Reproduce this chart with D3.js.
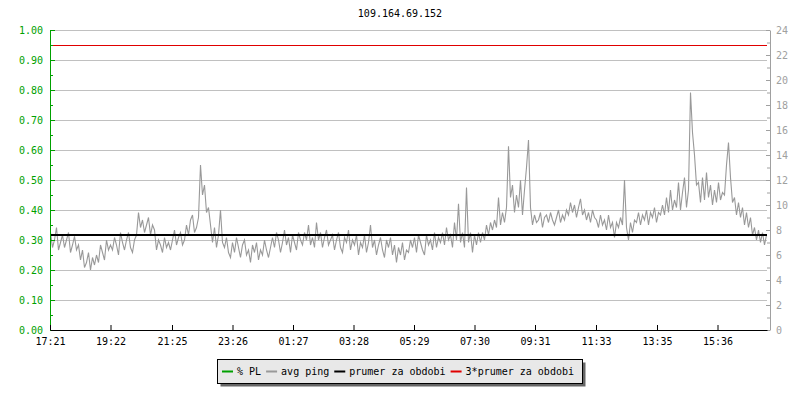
<!DOCTYPE html>
<html>
<head>
<meta charset="utf-8">
<script src="https://cdn.jsdelivr.net/npm/d3@7"></script>
<style>
  body { margin: 0; background: #fff; }
  svg { display: block; font-family: 'DejaVu Sans Mono', monospace; font-size: 10px; }
</style>
</head>
<body>
<svg width="800" height="400"></svg>
<script>
(function () {
  'use strict';

  const svg = d3.select('svg');
  const width = +svg.attr('width');
  const height = +svg.attr('height');

  const title = '109.164.69.152';

  // time axis: one sample every 4 minutes from 17:21
  const startTime = '17:21';
  const stepMinutes = 4;
  const spanMinutes = 1434;
  const timeTicks = ['17:21', '19:22', '21:25', '23:26', '01:27', '03:28',
                     '05:29', '07:30', '09:31', '11:33', '13:35', '15:36'];

  const plTicks = [0, 0.1, 0.2, 0.3, 0.4, 0.5, 0.6, 0.7, 0.8, 0.9, 1.0];
  const pingTicks = [0, 2, 4, 6, 8, 10, 12, 14, 16, 18, 20, 22, 24];

  // avg ping (ms)
  const pingValues = [
    7.8, 6.6, 7.2, 8.2, 6.4, 7.0, 7.6, 6.6,
    7.2, 7.8, 6.2, 6.8, 7.5, 6.4, 6.8,
    5.6, 6.4, 5.0, 5.4, 6.2, 4.8, 5.8, 5.2,
    6.0, 5.4, 6.8, 6.2, 5.6, 7.2, 6.4, 6.8,
    6.4, 7.4, 6.8, 6.0, 7.8, 7.0, 6.4, 7.2, 7.8, 6.6, 6.2, 7.2,
    7.6, 9.4, 8.2, 8.8, 7.8, 8.4, 9.0, 7.6, 8.4, 8.0,
    6.4, 7.2, 6.8, 6.2, 7.4, 6.6, 7.0, 6.4,
    7.2, 8.0, 6.8, 7.4, 7.8, 6.8, 7.2,
    8.4, 7.6, 8.8, 9.2, 7.8, 8.2, 9.0, 13.2,
    10.8, 11.6, 9.4, 9.8, 8.4,
    7.0, 8.2, 6.6, 7.6, 9.6, 7.0, 6.6, 7.4, 6.2, 5.8,
    7.0, 6.2, 7.4, 6.6, 5.8, 6.8, 7.2, 6.0, 6.4, 5.4, 6.8, 6.2, 7.0, 5.6, 6.4, 6.0, 7.2, 6.4, 5.8, 6.6,
    7.4, 6.6, 7.8, 7.2, 6.2, 7.0, 8.0, 6.8, 7.4, 6.2, 7.6, 7.0, 6.4, 7.8, 7.2,
    6.8, 7.8, 7.2, 8.4, 6.8, 7.4, 6.6, 8.6, 7.2, 7.8, 6.6, 7.4, 8.0, 6.8, 7.2,
    7.6, 6.4, 7.2, 7.8, 6.6, 6.2, 7.4, 7.0, 8.0, 6.4, 7.2, 6.8, 7.6, 6.0, 7.0,
    6.6, 7.6, 6.2, 7.0, 8.4, 6.6, 7.2, 6.0, 6.8, 7.4, 6.4, 5.8, 7.2, 6.6, 7.4,
    6.0, 6.8, 5.4, 6.6, 6.0, 7.0, 5.6, 6.4, 6.2, 7.2,
    6.6, 7.4, 6.2, 7.6, 7.0, 6.4, 6.0, 7.6, 6.8, 7.2, 6.4, 7.8, 6.6, 7.4, 7.0,
    7.8, 6.8, 8.2, 7.2, 7.6, 6.6, 8.6, 7.2,
    10.1,
    7.0, 7.8, 6.6,
    11.4,
    7.0, 7.8, 6.2, 7.6, 6.8, 7.8, 7.0,
    7.8, 7.2, 8.4, 7.6, 8.6, 8.0, 8.8, 8.2,
    10.6,
    8.4, 9.4, 8.6, 9.8, 14.7,
    10.6, 11.6, 9.4, 10.8, 9.8, 12.0, 9.2, 11.2, 13.0, 15.2,
    9.8, 8.4, 9.2, 8.6, 8.8, 9.4, 8.2, 9.0,
    9.2, 8.6, 9.4, 8.8, 8.4, 9.0, 9.6, 8.6, 9.2, 8.8,
    9.6, 9.2, 10.2, 9.4, 10.0, 9.0, 9.8, 10.5,
    9.2, 9.6, 8.8, 9.4, 8.6, 9.6, 9.0,
    8.8, 8.2, 9.2, 8.4, 8.8, 8.0, 9.2, 8.2, 8.6, 7.4,
    8.6, 8.2, 9.0, 8.4, 12.0,
    8.2, 7.2, 8.6, 7.8, 8.8,
    8.6, 9.4, 8.4, 9.2, 8.8, 9.6, 8.4, 9.4, 9.0, 9.8, 8.6, 9.4, 9.2,
    10.0, 9.2, 10.6, 9.4, 11.2, 9.6, 10.4,
    9.8, 11.8, 9.6, 11.0, 12.2, 9.8, 11.2,
    19.0,
    15.8, 14.0, 11.6,
    11.8, 10.2, 12.2, 10.4, 12.6, 10.6, 11.6, 10.0,
    11.2, 10.2, 11.8, 10.4, 11.0, 10.8, 13.2,
    15.0, 12.2, 10.2,
    10.6, 9.2, 10.2, 9.0, 9.8, 8.4, 9.4, 8.2, 9.0,
    7.6, 8.2, 7.2, 8.0, 7.0, 7.8, 6.8, 7.6
  ];

  const prumer = 7.6;

  const legendLabels = ['% PL', 'avg ping', 'prumer za obdobi', '3*prumer za obdobi'];
  const legendColors = ['#00a000', '#999999', '#000000', '#e00000'];

  const margin = { top: 30, right: 33, bottom: 70, left: 50 };
  const innerWidth = width - margin.left - margin.right;
  const innerHeight = height - margin.top - margin.bottom;

  const parseHM = d3.timeParse('%H:%M');
  const start = parseHM(startTime);
  const end = d3.timeMinute.offset(start, spanMinutes);
  const tickDates = timeTicks.map(t => {
    const d = parseHM(t);
    return d < start ? d3.timeDay.offset(d, 1) : d;
  });

  const data = pingValues.map((v, i) => ({ t: d3.timeMinute.offset(start, i * stepMinutes), v: v }));

  const xScale = d3.scaleTime().domain([start, end]).range([0, innerWidth]);
  const yPL = d3.scaleLinear().domain([0, 1]).range([innerHeight, 0]);
  const yPing = d3.scaleLinear().domain([0, 24]).range([innerHeight, 0]);

  svg.append('text')
    .attr('x', width / 2)
    .attr('y', 17)
    .attr('text-anchor', 'middle')
    .attr('fill', '#000')
    .text(title);

  const g = svg.append('g')
    .attr('transform', `translate(${margin.left},${margin.top})`);

  // horizontal grid
  g.selectAll('.grid').data(plTicks.filter(d => d > 0)).enter()
    .append('line')
      .attr('class', 'grid')
      .attr('x1', 0)
      .attr('x2', innerWidth)
      .attr('y1', d => Math.round(yPL(d)) + 0.5)
      .attr('y2', d => Math.round(yPL(d)) + 0.5)
      .attr('stroke', '#c0c0c0')
      .attr('stroke-width', 1);

  // avg ping
  const line = d3.line()
    .x(d => xScale(d.t) + 0.5)
    .y(d => yPing(d.v));

  g.append('path')
    .datum(data)
    .attr('d', line)
    .attr('fill', 'none')
    .attr('stroke', '#999999')
    .attr('stroke-width', 1.1);

  // prumer + 3*prumer
  g.append('line')
    .attr('x1', 0).attr('x2', innerWidth)
    .attr('y1', yPing(prumer)).attr('y2', yPing(prumer))
    .attr('stroke', '#000').attr('stroke-width', 2);

  g.append('line')
    .attr('x1', 0).attr('x2', innerWidth)
    .attr('y1', Math.round(yPing(3 * prumer)) + 0.5).attr('y2', Math.round(yPing(3 * prumer)) + 0.5)
    .attr('stroke', '#e00000').attr('stroke-width', 1);

  // left axis (% PL)
  const leftAxisG = g.append('g')
    .call(d3.axisLeft(yPL).tickValues(plTicks).tickFormat(d3.format('.2f'))
      .tickSize(-5).tickSizeOuter(0).tickPadding(7));
  g.append('g')
    .call(d3.axisLeft(yPL).tickValues(d3.range(0.05, 1, 0.1)).tickFormat('')
      .tickSize(-3).tickSizeOuter(0))
    .select('.domain').remove();
  leftAxisG.select('.domain').attr('stroke', '#00a000');
  g.selectAll('.tick line').attr('stroke', '#00a000');
  leftAxisG.selectAll('text').attr('fill', '#00a000');

  // right axis (ping)
  const rightAxisG = g.append('g')
    .attr('transform', `translate(${innerWidth + 3},0)`)
    .call(d3.axisRight(yPing).tickValues(pingTicks)
      .tickSize(-4).tickSizeOuter(0).tickPadding(6));
  const rightMinorG = g.append('g')
    .attr('transform', `translate(${innerWidth + 3},0)`)
    .call(d3.axisRight(yPing).tickValues(d3.range(1, 24, 2)).tickFormat('')
      .tickSize(-3).tickSizeOuter(0));
  rightMinorG.select('.domain').remove();
  rightAxisG.select('.domain').attr('stroke', '#a0a0a0');
  rightAxisG.selectAll('.tick line').attr('stroke', '#a0a0a0');
  rightMinorG.selectAll('.tick line').attr('stroke', '#a0a0a0');
  rightAxisG.selectAll('text').attr('fill', '#a0a0a0');

  // bottom axis (time)
  const xAxisG = g.append('g')
    .attr('transform', `translate(0,${innerHeight})`)
    .call(d3.axisBottom(xScale).tickValues(tickDates).tickFormat(d3.timeFormat('%H:%M'))
      .tickSize(-5).tickSizeOuter(0).tickPadding(8));
  xAxisG.select('.domain').attr('stroke', '#000');
  xAxisG.selectAll('.tick line').attr('stroke', '#000');
  xAxisG.selectAll('text').attr('fill', '#000');

  g.selectAll('.tick text, g').attr('font-family', 'DejaVu Sans Mono').attr('font-size', 10);

  // legend
  const legendG = svg.append('g');
  const shadow = legendG.append('rect').attr('fill', '#666');
  const box = legendG.append('rect').attr('fill', '#e8e8e8').attr('stroke', '#000');

  let xPos = 5;
  legendLabels.forEach((label, i) => {
    legendG.append('line')
      .attr('x1', xPos).attr('x2', xPos + 11)
      .attr('y1', 12.5).attr('y2', 12.5)
      .attr('stroke', legendColors[i])
      .attr('stroke-width', 2);
    const txt = legendG.append('text')
      .attr('x', xPos + 15)
      .attr('y', 16)
      .attr('fill', '#000')
      .text(label);
    xPos += 15 + txt.node().getComputedTextLength() + 5;
  });
  const boxW = Math.round(xPos + 3);
  const boxH = 24;
  box.attr('x', 0.5).attr('y', 0.5).attr('width', boxW).attr('height', boxH);
  shadow.attr('x', 3.5).attr('y', 3.5).attr('width', boxW).attr('height', boxH);
  legendG.attr('transform', `translate(${Math.round(399 - boxW / 2)},359)`);

}());
</script>
</body>
</html>
